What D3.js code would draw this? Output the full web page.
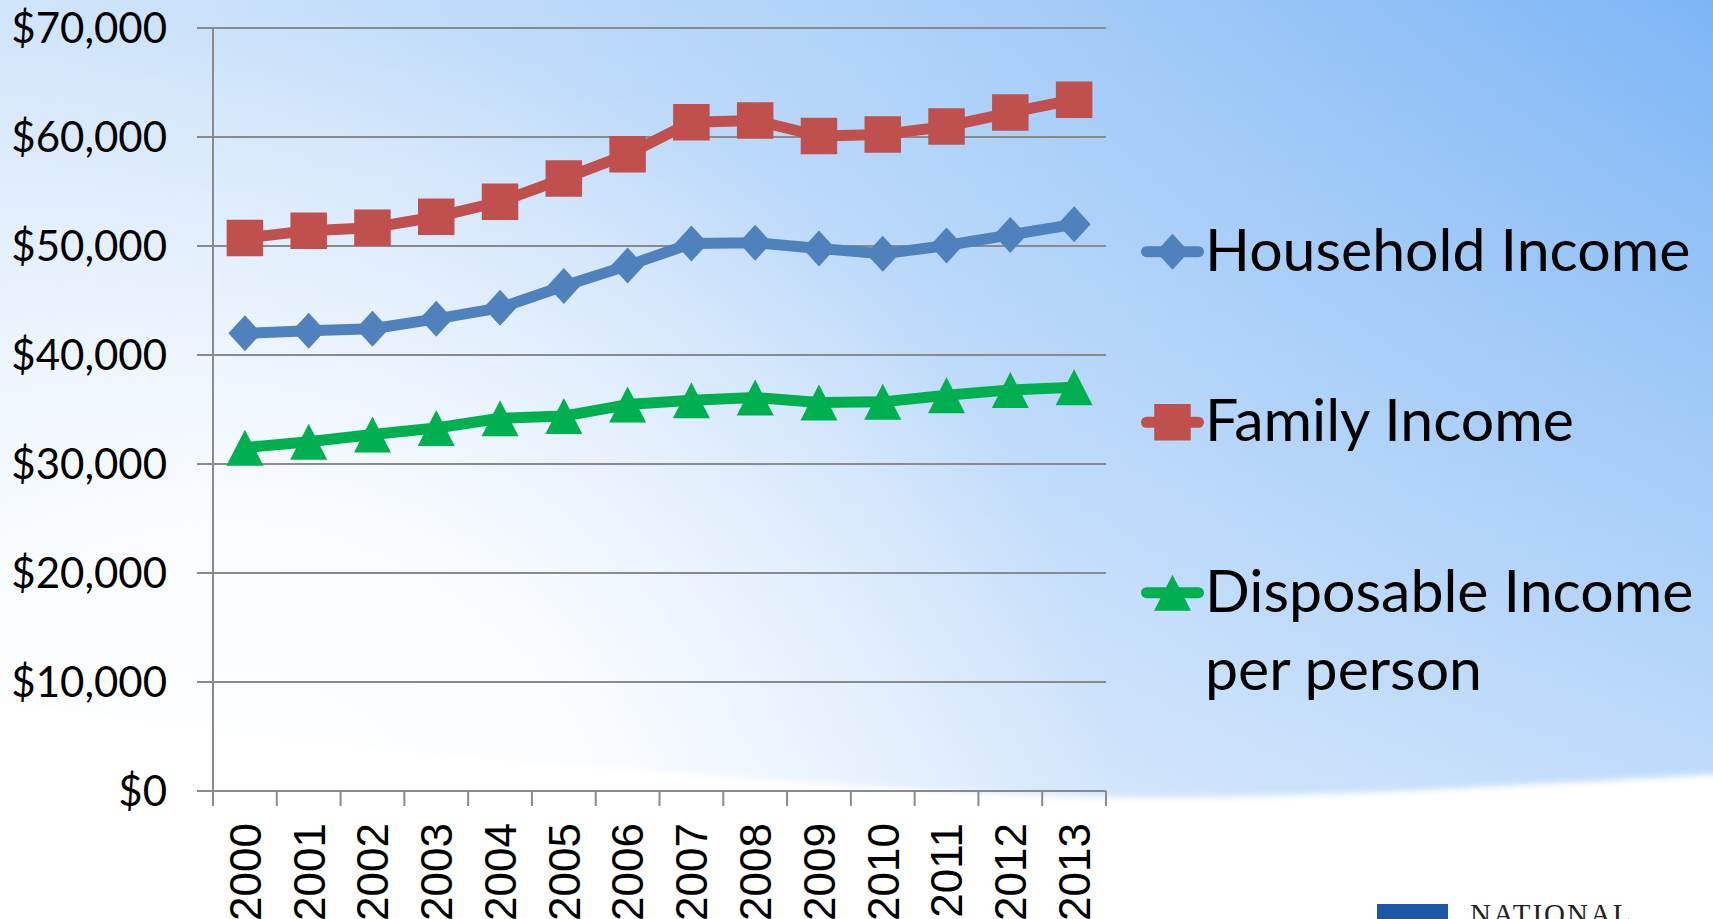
<!DOCTYPE html>
<html lang="en">
<head>
<meta charset="UTF-8">
<title>Income 2000-2013</title>
<style>
  body { margin: 0; overflow: hidden; background: #fff; }
  svg { display: block; }
  .ylab { font-family: Lato, "Open Sans", sans-serif; font-size: 42px; fill: #000; }
  .xlab { font-family: "Liberation Sans", Arial, sans-serif; font-size: 44px; fill: #000; }
  .leg { font-family: Lato, "Open Sans", sans-serif; font-size: 59px; fill: #000; }
  .rule { stroke: #8a8a8a; stroke-width: 2; }
</style>
</head>
<body>
<svg width="1713" height="919"></svg>
<script src="https://cdn.jsdelivr.net/npm/d3@7"></script>
<script>
const years = ["2000","2001","2002","2003","2004","2005","2006","2007","2008","2009","2010","2011","2012","2013"];
const household = [41990, 42230, 42410, 43320, 44330, 46330, 48200, 50230, 50300, 49780, 49280, 50050, 51020, 51990];
const family = [50730, 51410, 51680, 52680, 54060, 56190, 58410, 61360, 61520, 60090, 60240, 60970, 62240, 63420];
const disposable = [31500, 32050, 32700, 33300, 34200, 34400, 35450, 35850, 36100, 35650, 35700, 36300, 36800, 37050];
const yTicks = [0, 10000, 20000, 30000, 40000, 50000, 60000, 70000];
const legendLabels = [["Household Income"], ["Family Income"], ["Disposable Income", "per person"]];

const svg = d3.select("svg");
const width = 1713, height = 919;

// plot box
const plotLeft = 213, plotRight = 1106, plotTop = 28, plotBottom = 791;

const x = d3.scaleBand().domain(years).range([plotLeft, plotRight]);
const y = d3.scaleLinear().domain([0, 70000]).range([plotBottom, plotTop]);

// ---- background ----
const defs = svg.append("defs");
const base = defs.append("linearGradient").attr("id", "base")
    .attr("x1", 0).attr("y1", 0).attr("x2", 1).attr("y2", 0);
base.append("stop").attr("offset", "0%").attr("stop-color", "#d2e6fb");
base.append("stop").attr("offset", "50%").attr("stop-color", "#afd2f9");
base.append("stop").attr("offset", "100%").attr("stop-color", "#7db6f5");

const fade = defs.append("linearGradient").attr("id", "fade")
    .attr("x1", 0).attr("y1", 0).attr("x2", 0).attr("y2", 1);
fade.append("stop").attr("offset", "0%").attr("stop-color", "#fff").attr("stop-opacity", 0);
fade.append("stop").attr("offset", "100%").attr("stop-color", "#fff").attr("stop-opacity", 0.6);

const glow = defs.append("radialGradient").attr("id", "glow")
    .attr("gradientUnits", "userSpaceOnUse")
    .attr("cx", 260).attr("cy", 870).attr("r", 860);
glow.append("stop").attr("offset", "0%").attr("stop-color", "#fff").attr("stop-opacity", 1);
glow.append("stop").attr("offset", "40%").attr("stop-color", "#fff").attr("stop-opacity", 0.85);
glow.append("stop").attr("offset", "100%").attr("stop-color", "#fff").attr("stop-opacity", 0);

defs.append("filter").attr("id", "soft")
  .append("feGaussianBlur").attr("stdDeviation", 3);

svg.append("rect").attr("width", width).attr("height", height).attr("fill", "url(#base)");
svg.append("rect").attr("width", width).attr("height", height).attr("fill", "url(#fade)");
svg.append("rect").attr("width", width).attr("height", height).attr("fill", "url(#glow)");

const swoosh = [[-10, 700], [344, 745], [600, 767], [874, 787], [1093, 797], [1300, 795], [1723, 774]];
const swooshLine = d3.line().curve(d3.curveCatmullRom);
svg.append("path")
    .attr("d", swooshLine(swoosh) + `L${width + 10},${height + 10}L-10,${height + 10}Z`)
    .attr("fill", "#fff")
    .attr("filter", "url(#soft)");

// logo corner
svg.append("rect").attr("x", 1377).attr("y", 904).attr("width", 71).attr("height", 20).attr("fill", "#1c58a6");
svg.append("text").attr("x", 1470).attr("y", 924)
    .attr("font-family", "'Liberation Serif', serif").attr("font-size", 29)
    .attr("letter-spacing", 2).attr("fill", "#222").text("NATIONAL");

// ---- grid + axes ----
svg.append("g").selectAll("line").data(yTicks).join("line")
    .attr("class", "rule")
    .attr("x1", plotLeft - 16).attr("x2", plotRight)
    .attr("y1", d => y(d)).attr("y2", d => y(d));

svg.append("line").attr("class", "rule")
    .attr("x1", plotLeft).attr("x2", plotLeft).attr("y1", plotTop).attr("y2", plotBottom + 15);

const bounds = years.map(d => x(d)).concat([x(years[years.length - 1]) + x.bandwidth()]);
svg.append("g").selectAll("line").data(bounds.slice(1)).join("line")
    .attr("class", "rule")
    .attr("x1", d => d).attr("x2", d => d)
    .attr("y1", plotBottom).attr("y2", plotBottom + 15);

svg.append("g").selectAll("text").data(yTicks).join("text")
    .attr("class", "ylab")
    .attr("text-anchor", "end")
    .attr("x", 167)
    .attr("y", d => y(d) + 15.3)
    .text(d3.format("$,"));

svg.append("g").selectAll("text").data(years).join("text")
    .attr("class", "xlab")
    .attr("text-anchor", "end")
    .attr("transform", d => `translate(${x(d) + x.bandwidth() / 2},823) rotate(-90)`)
    .attr("dy", "0.36em")
    .text(d => d);

// ---- series ----
const markers = {
  diamond: "M0,-18L16.5,0L0,18L-16.5,0Z",
  square: "M-18.25,-18.25h36.5v36.5h-36.5Z",
  triangle: "M0,-18L18.5,18L-18.5,18Z"
};

const series = [
  { values: household, color: "#4f81bd", marker: "diamond" },
  { values: family, color: "#c0504d", marker: "square" },
  { values: disposable, color: "#00b050", marker: "triangle" }
];

const line = d3.line()
    .x((d, i) => x(years[i]) + x.bandwidth() / 2)
    .y(d => y(d));

series.forEach(s => {
  const g = svg.append("g");
  g.append("path")
      .attr("d", line(s.values))
      .attr("fill", "none")
      .attr("stroke", s.color)
      .attr("stroke-width", 11)
      .attr("stroke-linejoin", "round");
  g.selectAll("path.mk").data(s.values).join("path")
      .attr("class", "mk")
      .attr("transform", (d, i) => `translate(${x(years[i]) + x.bandwidth() / 2},${y(d)})`)
      .attr("d", markers[s.marker])
      .attr("fill", s.color);
});

// ---- legend ----
const legendY = [251.7, 422.3, 592.7];
const legend = svg.append("g").selectAll("g").data(series).join("g")
    .attr("transform", (d, i) => `translate(0,${legendY[i]})`);

legend.append("line")
    .attr("x1", 1146.5).attr("x2", 1198.5)
    .attr("stroke", d => d.color)
    .attr("stroke-width", 11)
    .attr("stroke-linecap", "round");
legend.append("path")
    .attr("transform", "translate(1172.5,0)")
    .attr("d", d => markers[d.marker])
    .attr("fill", d => d.color);
legend.each(function(d, i) {
  const t = d3.select(this).append("text").attr("class", "leg").attr("x", 1205).attr("y", 19);
  legendLabels[i].forEach((s, j) => {
    t.append("tspan").attr("x", 1205).attr("dy", j === 0 ? 0 : 78).text(s);
  });
});
</script>
</body>
</html>
